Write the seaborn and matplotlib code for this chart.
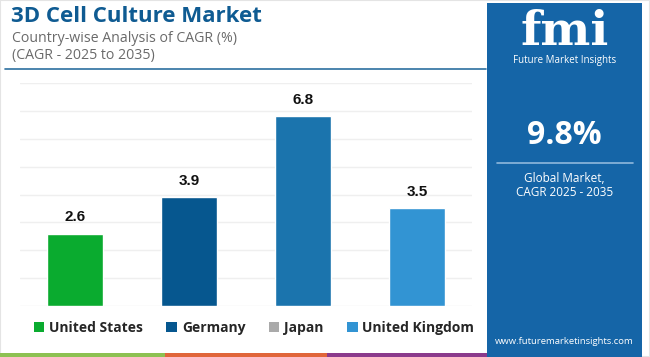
import matplotlib
matplotlib.use("Agg")
import matplotlib.pyplot as plt
import seaborn as sns
from matplotlib.patches import Patch, Rectangle
from matplotlib.lines import Line2D

# chart data
countries = ["United States", "Germany", "Japan", "United Kingdom"]
cagr = [2.6, 3.9, 6.8, 3.5]
bar_colors = ["#0aab2f", "#06578f", "#1b74ad", "#3294d3"]
legend_colors = ["#0aab2f", "#06578f", "#aaaaaa", "#3294d3"]
yticks = [0, 1, 2, 3, 4, 5, 6, 7, 8]

sns.set_style("white")
plt.rcParams["font.family"] = ["Open Sans", "DejaVu Sans"]

W, H = 650, 357
fig = plt.figure(figsize=(6.5, 3.57), dpi=100)
fig.patch.set_facecolor("white")

# faint frame (drawn first so the stripes and panel sit over it)
fig.add_artist(Rectangle((0, 0), 1, 1, fill=False, edgecolor="#e4e4e4", lw=1.5))

# plot area
ax = fig.add_axes([20 / W, 1 - 306 / H, 452 / W, 223 / H])
sns.barplot(x=countries, y=cagr, hue=countries, palette=bar_colors,
            width=0.49, saturation=1, legend=False, ax=ax)
ax.set_xlim(-0.48, 3.48)
ax.set_ylim(0, 8)
ax.set_yticks(yticks)
ax.grid(axis="y", color="#efefef", linewidth=1)
ax.set_axisbelow(True)
ax.tick_params(left=False, bottom=False, labelleft=False, labelbottom=False)
ax.set_xlabel("")
ax.set_ylabel("")
for s in ax.spines.values():
    s.set_visible(False)
for i, v in enumerate(cagr):
    ax.annotate(f"{v}", (i, v), xytext=(0, 7), textcoords="offset points",
                ha="center", va="bottom", fontsize=11, fontweight="bold",
                family="Liberation Sans", color="#111111")

# legend
handles = [Patch(facecolor=c, edgecolor="none") for c in legend_colors]
fig.legend(handles, countries, loc="center", bbox_to_anchor=(254 / W, 1 - 328 / H),
           ncol=4, frameon=False, handlelength=0.75, handleheight=0.75,
           handletextpad=0.35, columnspacing=1.7,
           prop={"weight": "bold", "size": 10, "family": "Open Sans"})

# title block
fig.text(11 / W, 1 - 17 / H, "3D Cell Culture Market", fontsize=16, fontweight="bold",
         color="#0f5b92", va="center", ha="left")
fig.text(12 / W, 1 - 38 / H, "Country-wise Analysis of CAGR (%)", fontsize=10.2,
         color="#6a6a6a", va="center", ha="left")
fig.text(12 / W, 1 - 56 / H, "(CAGR - 2025 to 2035)", fontsize=10.2,
         color="#6a6a6a", va="center", ha="left")
fig.add_artist(Line2D([5 / W, 486 / W], [1 - 68.5 / H] * 2, color="#2c6f9f", linewidth=1.2))

# bottom stripes
for x0, x1, c in [(0, 165, "#8dc152"), (165, 327, "#e0663a"), (327, 490, "#8b3a8c")]:
    fig.add_artist(Rectangle((x0 / W, 0), (x1 - x0) / W, 4.5 / H, color=c, lw=0))

# right panel
fig.add_artist(Rectangle((487 / W, 0), 155 / W, 354 / H, color="#1565a7", lw=0))
cx = 564.5 / W
fig.text(cx, 1 - 32 / H, "fmi", fontsize=34, fontweight="bold", family="DejaVu Serif",
         color="white", ha="center", va="center")
fig.text(cx, 1 - 60 / H, "Future Market Insights", fontsize=7, color="white",
         ha="center", va="center")
fig.text(cx, 1 - 136 / H, "9.8%", fontsize=23, fontweight="bold", color="white",
         ha="center", va="center")
fig.add_artist(Line2D([497 / W, 633 / W], [1 - 163 / H] * 2, color="#8fb8dc", linewidth=1.2))
fig.text(cx, 1 - 178 / H, "Global Market,", fontsize=8.5, color="white",
         ha="center", va="center")
fig.text(cx, 1 - 193 / H, "CAGR 2025 - 2035", fontsize=8.5, color="white",
         ha="center", va="center")
fig.text(cx, 1 - 341 / H, "www.futuremarketinsights.com", fontsize=6.8, color="white",
         ha="center", va="center")

fig.savefig("out.png", dpi=100)
